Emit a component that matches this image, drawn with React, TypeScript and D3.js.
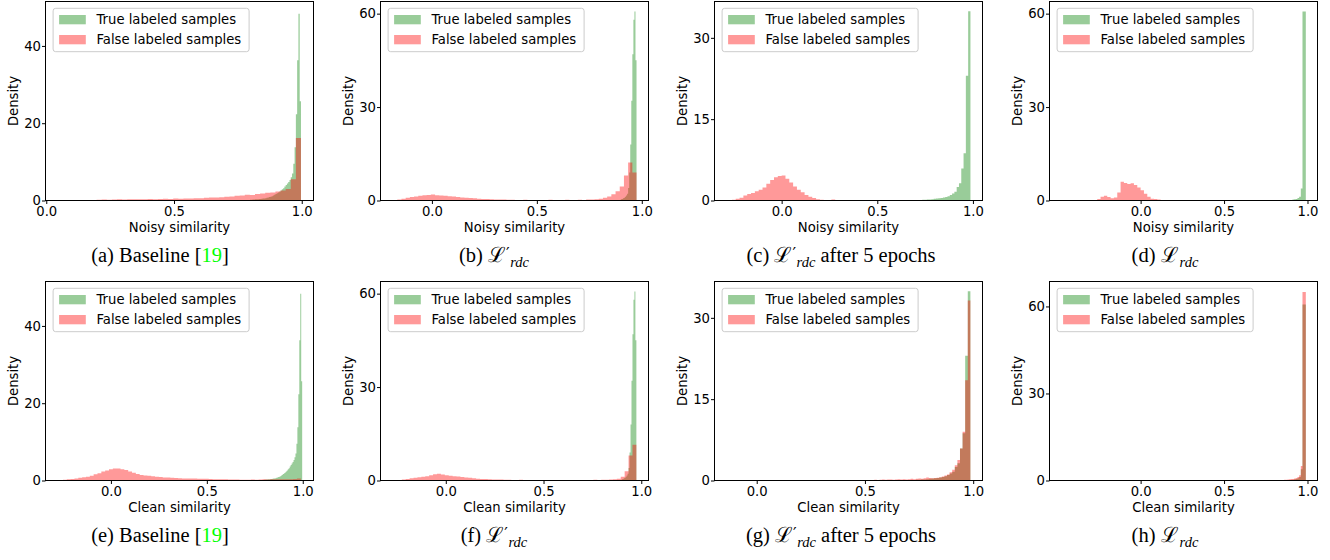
import React, { useRef, useEffect } from "react";
import * as d3 from "d3";

type Hist = { start: number; step: number; values: number[] };

const legendLabels = ["True labeled samples", "False labeled samples"];
const xTicks = [0, 0.5, 1.0];

// true labeled samples: noisy label == clean label, so both rows share these
const trueBaseline: Hist = {
  start: 0.797,
  step: 0.005,
  values: [
    0.2, 0.2, 0.25, 0.25, 0.3, 0.3, 0.35, 0.4, 0.4, 0.45,
    0.5, 0.55, 0.6, 0.7, 0.8, 0.9, 1.0, 1.1, 1.3, 1.5,
    1.7, 1.9, 2.1, 2.3, 2.6, 2.9, 3.2, 3.6, 4.0, 4.4,
    4.8, 5.3, 6.0, 7.0, 9.5, 13.8, 22.3, 36.3, 48.3, 25.7,
  ],
};
const trueRdcPrime: Hist = {
  start: 0.9,
  step: 0.005,
  values: [0.4, 0.5, 0.7, 0.9, 1.2, 1.6, 2.2, 4, 9, 18, 32, 47, 58, 60.7, 45],
};
const trueRdcPrime5: Hist = {
  start: 0.711,
  step: 0.012,
  values: [
    0.1, 0.1, 0.15, 0.15, 0.2, 0.2, 0.25, 0.3, 0.35, 0.4,
    0.45, 0.55, 0.65, 0.8, 1.0, 1.3, 1.6, 2.5, 3.2, 5.9,
    8.7, 23, 34.9,
  ],
};
const trueRdc: Hist = {
  start: 0.9,
  step: 0.01,
  values: [0.2, 0.3, 0.4, 0.5, 0.8, 1.2, 3.85, 60.7, 60.7],
};

// false labeled samples, noisy similarity
const falseNoisyBaseline: Hist = {
  start: 0.037,
  step: 0.02,
  values: [
    0.05, 0.05, 0.05, 0.1, 0.1, 0.1, 0.15, 0.15, 0.2, 0.25,
    0.2, 0.25, 0.3, 0.25, 0.3, 0.35, 0.3, 0.35, 0.4, 0.35,
    0.4, 0.45, 0.4, 0.5, 0.45, 0.5, 0.55, 0.6, 0.6, 0.7,
    0.75, 0.8, 0.85, 1.0, 1.05, 1.2, 1.3, 1.5, 1.4, 1.7,
    1.8, 2.0, 2.1, 2.3, 2.6, 3.0, 5.5, 16.2,
  ],
};
const falseNoisyRdcPrime: Hist = {
  start: -0.185,
  step: 0.02,
  values: [
    0.1, 0.3, 0.6, 0.9, 1.1, 1.3, 1.5, 1.7, 1.8, 1.9,
    1.7, 1.6, 1.5, 1.4, 1.3, 1.1, 1.0, 0.9, 0.8, 0.7,
    0.6, 0.5, 0.45, 0.4, 0.35, 0.3, 0.3, 0.25, 0.25, 0.2,
    0.2, 0.25, 0.2, 0.2, 0.15, 0.2, 0.2, 0.25, 0.2, 0.2,
    0.2, 0.25, 0.2, 0.2, 0.25, 0.2, 0.3, 0.3, 0.4, 0.6,
    0.9, 1.3, 2.0, 3.0, 4.5, 8.0, 12.2, 9.0,
  ],
};
const falseNoisyRdcPrime5: Hist = {
  start: -0.3,
  step: 0.02,
  values: [
    0.05, 0.1, 0.15, 0.3, 0.5, 0.9, 1.2, 1.4, 1.7, 2.0,
    2.4, 3.1, 3.8, 4.3, 4.5, 4.6, 4.0, 3.3, 2.6, 2.0,
    1.5, 1.0, 0.7, 0.45, 0.25, 0.15, 0.08, 0.05, 0.2, 0.05, 0.03,
  ],
};
const falseNoisyRdc: Hist = {
  start: -0.28,
  step: 0.02,
  values: [
    0.1, 0.5, 1.2, 1.5, 1.1, 0.7, 1.0, 2.6, 6.0, 5.6,
    5.3, 5.5, 5.0, 4.2, 3.3, 2.2, 1.2, 0.6, 0.5, 0.35, 0.05,
  ],
};

// false labeled samples, clean similarity
const falseCleanBaseline: Hist = {
  start: -0.29,
  step: 0.02,
  values: [
    0.1, 0.15, 0.2, 0.3, 0.4, 0.55, 0.7, 0.85, 1.0, 1.2,
    1.6, 1.9, 2.3, 2.6, 2.9, 3.1, 3.1, 2.9, 2.7, 2.3,
    2.0, 1.7, 1.45, 1.3, 1.2, 1.1, 1.0, 0.9, 0.8, 0.75,
    0.7, 0.65, 0.6, 0.55, 0.55, 0.5, 0.5, 0.45, 0.45, 0.45,
    0.4, 0.35, 0.35, 0.3, 0.3, 0.25, 0.25, 0.25, 0.2, 0.2,
    0.2, 0.25, 0.2, 0.25, 0.3, 0.25, 0.3, 0.35, 0.3, 0.35,
    0.3, 0.35, 0.4, 0.5,
  ],
};
const falseCleanRdcPrime: Hist = {
  start: -0.265,
  step: 0.02,
  values: [
    0.15, 0.2, 0.35, 0.5, 0.7, 0.9, 1.05, 1.2, 1.35, 1.7,
    2.0, 2.2, 1.95, 1.7, 1.5, 1.35, 1.25, 1.1, 1.0, 0.85,
    0.7, 0.6, 0.5, 0.45, 0.4, 0.35, 0.3, 0.3, 0.25, 0.25,
    0.2, 0.2, 0.25, 0.2, 0.2, 0.15, 0.2, 0.2, 0.15, 0.2,
    0.2, 0.15, 0.2, 0.2, 0.15, 0.2, 0.2, 0.15, 0.2, 0.2,
    0.2, 0.25, 0.2, 0.25, 0.25, 0.3, 0.4, 0.6, 1.2, 3.0,
    8.0, 11.5,
  ],
};
const falseCleanRdcPrime5: Hist = {
  start: 0.519,
  step: 0.012,
  values: [
    0.1, 0.1, 0.15, 0.1, 0.15, 0.2, 0.15, 0.2, 0.2, 0.15,
    0.2, 0.25, 0.2, 0.25, 0.2, 0.25, 0.3, 0.25, 0.3, 0.35,
    0.3, 0.4, 0.55, 0.45, 0.4, 0.45, 0.5, 0.6, 0.75, 0.9,
    1.1, 1.5, 2.0, 2.8, 3.8, 5.9, 9.0, 18.5, 33.2,
  ],
};
const falseCleanRdc: Hist = {
  start: 0.7,
  step: 0.01,
  values: [
    0.05, 0.05, 0.05, 0.1, 0.05, 0.1, 0.1, 0.1, 0.1, 0.1,
    0.1, 0.1, 0.15, 0.15, 0.2, 0.2, 0.25, 0.3, 0.35, 0.4,
    0.5, 0.55, 0.7, 0.9, 1.2, 1.8, 5.0, 65, 65,
  ],
};

const panels = [
  { tag: "a", caption: "baseline", xLabel: "Noisy similarity", xDomain: [-0.003, 1.046], yMax: 51.5, yTicks: [0, 20, 40], trueHist: trueBaseline, falseHist: falseNoisyBaseline },
  { tag: "b", caption: "rdcPrime", xLabel: "Noisy similarity", xDomain: [-0.245, 1.032], yMax: 63.9, yTicks: [0, 30, 60], trueHist: trueRdcPrime, falseHist: falseNoisyRdcPrime },
  { tag: "c", caption: "rdcPrime5", xLabel: "Noisy similarity", xDomain: [-0.351, 1.05], yMax: 36.7, yTicks: [0, 15, 30], trueHist: trueRdcPrime5, falseHist: falseNoisyRdcPrime5 },
  { tag: "d", caption: "rdc", xLabel: "Noisy similarity", xDomain: [-0.546, 1.06], yMax: 63.9, yTicks: [0, 30, 60], trueHist: trueRdc, falseHist: falseNoisyRdc },
  { tag: "e", caption: "baseline", xLabel: "Clean similarity", xDomain: [-0.341, 1.056], yMax: 51.5, yTicks: [0, 20, 40], trueHist: trueBaseline, falseHist: falseCleanBaseline },
  { tag: "f", caption: "rdcPrime", xLabel: "Clean similarity", xDomain: [-0.334, 1.037], yMax: 63.9, yTicks: [0, 30, 60], trueHist: trueRdcPrime, falseHist: falseCleanRdcPrime },
  { tag: "g", caption: "rdcPrime5", xLabel: "Clean similarity", xDomain: [-0.195, 1.043], yMax: 36.7, yTicks: [0, 15, 30], trueHist: trueRdcPrime5, falseHist: falseCleanRdcPrime5 },
  { tag: "h", caption: "rdc", xLabel: "Clean similarity", xDomain: [-0.546, 1.06], yMax: 68.6, yTicks: [0, 30, 60], trueHist: trueRdc, falseHist: falseCleanRdc },
];

const FONT = "'DejaVu Sans', Verdana, sans-serif";
const SERIF = "'Liberation Serif', 'Times New Roman', serif";
const colors = ["#008000", "#ff0000"];

const App = () => {
  const svgRef = useRef<SVGSVGElement>(null);

  useEffect(() => {
    const svg = d3.select(svgRef.current);
    svg.selectAll("*").remove();

    const colLeft = [45.5, 380.5, 714.5, 1049.5];
    const rowTop = [1.5, 281.5];
    const plotW = 268;
    const plotH = 199;
    const captionX = [160, 494, 841, 1165];

    panels.forEach((p, i) => {
      const col = i % 4;
      const left = colLeft[col];
      const top = rowTop[Math.floor(i / 4)];
      const bottom = top + plotH;

      const x = d3.scaleLinear().domain(p.xDomain).range([left, left + plotW]);
      const y = d3.scaleLinear().domain([0, p.yMax]).range([bottom, top]);

      const g = svg.append("g");

      const area = d3
        .area<{ x: number; v: number }>()
        .curve(d3.curveStepAfter)
        .x((d) => x(d.x))
        .y0(y(0))
        .y1((d) => y(d.v));

      [p.trueHist, p.falseHist].forEach((h, k) => {
        const pts = h.values.map((v, j) => ({ x: h.start + j * h.step, v }));
        pts.push({ x: h.start + h.values.length * h.step, v: 0 });
        g.append("path")
          .attr("d", area(pts))
          .attr("fill", colors[k])
          .attr("fill-opacity", 0.4);
      });

      // frame
      g.append("rect")
        .attr("x", left)
        .attr("y", top)
        .attr("width", plotW)
        .attr("height", plotH)
        .attr("fill", "none")
        .attr("stroke", "#000")
        .attr("stroke-width", 1);

      const xAxis = g
        .append("g")
        .attr("transform", `translate(0,${bottom})`)
        .call(
          d3
            .axisBottom(x)
            .tickValues(xTicks)
            .tickFormat(d3.format(".1f"))
            .tickSizeInner(3.5)
            .tickSizeOuter(0)
            .tickPadding(2.5)
        );
      const yAxis = g
        .append("g")
        .attr("transform", `translate(${left},0)`)
        .call(
          d3
            .axisLeft(y)
            .tickValues(p.yTicks)
            .tickFormat(d3.format("d"))
            .tickSizeInner(3.5)
            .tickSizeOuter(0)
            .tickPadding(1)
        );
      [xAxis, yAxis].forEach((a) => {
        a.select(".domain").remove();
        a.selectAll("line").attr("stroke", "#000").attr("stroke-width", 1);
        a.selectAll("text")
          .attr("fill", "#000")
          .attr("font-size", 13.2)
          .attr("font-family", FONT);
      });

      g.append("text")
        .attr("x", left + plotW / 2)
        .attr("y", bottom + 31)
        .attr("text-anchor", "middle")
        .attr("font-family", FONT)
        .attr("font-size", 13.2)
        .text(p.xLabel);

      g.append("text")
        .attr("transform", `translate(${left - 28},${top + plotH / 2}) rotate(-90)`)
        .attr("text-anchor", "middle")
        .attr("font-family", FONT)
        .attr("font-size", 13.2)
        .text("Density");

      // legend
      const lg = g.append("g");
      lg.append("rect")
        .attr("x", left + 7.6)
        .attr("y", top + 6.8)
        .attr("width", 196)
        .attr("height", 43.4)
        .attr("rx", 2.6)
        .attr("fill", "#fff")
        .attr("fill-opacity", 0.8)
        .attr("stroke", "#cccccc")
        .attr("stroke-width", 1);
      legendLabels.forEach((label, k) => {
        lg.append("rect")
          .attr("x", left + 13.6)
          .attr("y", top + 13.5 + k * 20)
          .attr("width", 26.7)
          .attr("height", 9.3)
          .attr("fill", colors[k])
          .attr("fill-opacity", 0.4);
        lg.append("text")
          .attr("x", left + 51)
          .attr("y", top + 22.7 + k * 20)
          .attr("font-family", FONT)
          .attr("font-size", 13.2)
          .text(label);
      });

      // caption
      const cap = svg
        .append("text")
        .attr("x", captionX[col])
        .attr("y", top + 260.5)
        .attr("text-anchor", "middle")
        .attr("font-family", SERIF)
        .attr("font-size", 20.5)
        .attr("fill", "#000");
      if (p.caption === "baseline") {
        cap.append("tspan").text(`(${p.tag}) Baseline [`);
        cap.append("tspan").attr("fill", "#00ff00").text("19");
        cap.append("tspan").text("]");
      } else {
        cap.append("tspan").text(`(${p.tag}) `);
        cap.append("tspan")
          .attr("font-family", "'DejaVu Serif', serif")
          .attr("font-size", 21)
          .text("\u2112");
        if (p.caption === "rdc") {
          cap.append("tspan")
            .attr("font-style", "italic")
            .attr("font-size", 14.5)
            .attr("dx", 1)
            .attr("dy", 5)
            .text("rdc");
        } else {
          cap.append("tspan")
            .attr("font-family", "'DejaVu Sans', sans-serif")
            .attr("font-size", 16)
            .attr("dy", -3)
            .text("\u2032");
          cap.append("tspan")
            .attr("font-style", "italic")
            .attr("font-size", 14.5)
            .attr("dx", 0.5)
            .attr("dy", 8)
            .text("rdc");
          if (p.caption === "rdcPrime5") {
            cap.append("tspan").attr("dy", -5).text(" after 5 epochs");
          }
        }
      }
    });
  }, []);

  return (
    <svg
      ref={svgRef}
      width={1330}
      height={560}
      style={{ position: "absolute", left: 0, top: 0, background: "#fff" }}
    />
  );
};

export default App;
